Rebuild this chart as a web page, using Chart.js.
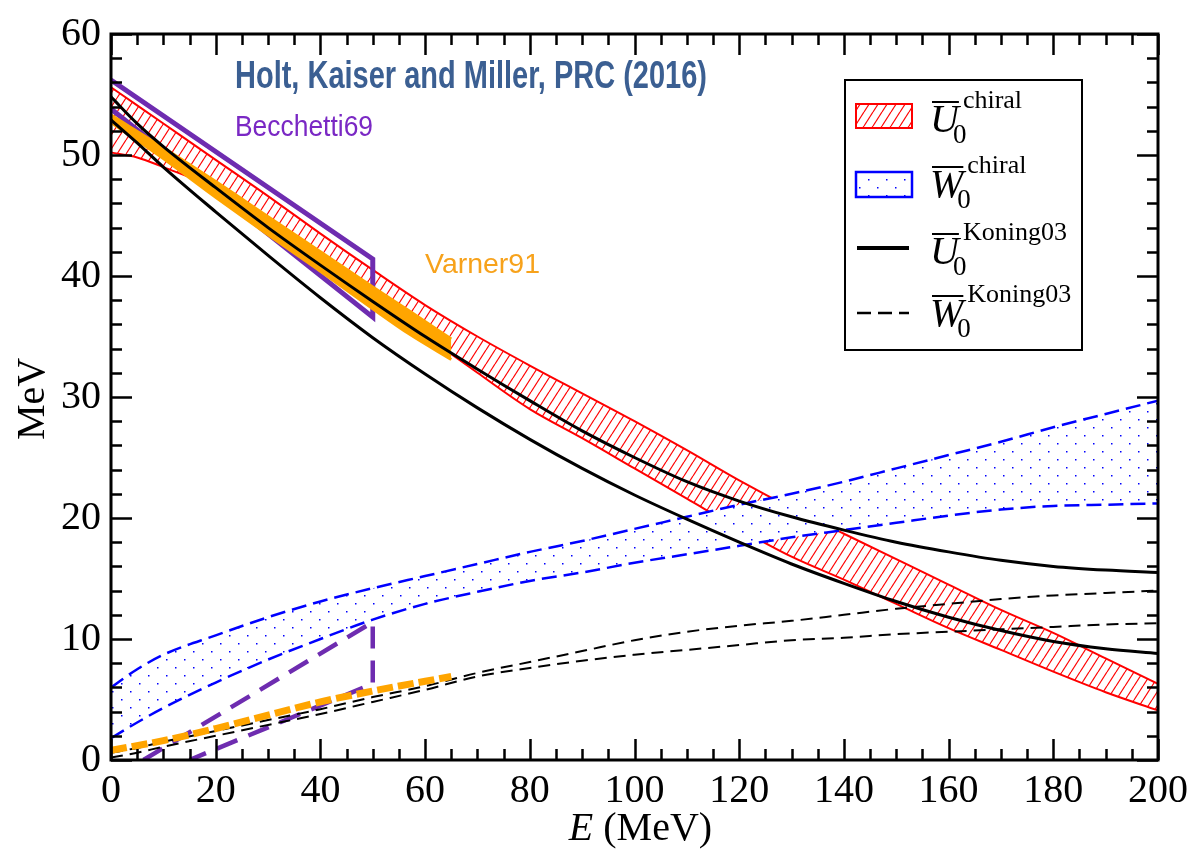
<!DOCTYPE html>
<html>
<head>
<meta charset="utf-8">
<title>Optical potential depths</title>
<script src="https://cdn.jsdelivr.net/npm/chart.js@4.4.1/dist/chart.umd.min.js"></script>
<style>
  html, body { margin: 0; padding: 0; background: #fff; }
  #wrap { width: 1197px; height: 852px; }
</style>
</head>
<body>
<div id="wrap"><canvas id="mycanvas" width="1197" height="852"></canvas></div>
<script>
// energy grid (MeV) for the chiral and Koning03 curves
var energy = [0, 5, 10, 20, 30, 40, 50, 60, 70, 80, 90, 100, 110, 120, 130, 140, 150, 160, 170, 180, 190, 200];

// chiral real part band
var uChiralHigh = [55.6, 54.1, 52.6, 49.6, 46.6, 43.5, 40.5, 37.6, 35.0, 32.6, 30.3, 28.0, 25.6, 23.1, 20.8, 18.7, 16.6, 14.5, 12.4, 10.5, 8.4, 6.3];
var uChiralLow  = [50.2, 49.8, 49.0, 47.2, 44.4, 41.3, 38.2, 35.1, 32.0, 29.0, 26.6, 24.1, 21.6, 19.1, 16.8, 14.9, 12.9, 10.9, 9.1, 7.3, 5.6, 4.1];

// chiral imaginary part band
var wChiralHigh = [6.0, 7.5, 8.7, 10.3, 11.8, 13.1, 14.2, 15.2, 16.2, 17.2, 18.1, 19.1, 20.1, 21.1, 22.0, 23.0, 24.1, 25.2, 26.3, 27.5, 28.6, 29.7];
var wChiralLow  = [1.8, 3.1, 4.3, 6.4, 8.3, 10.0, 11.6, 12.9, 13.9, 14.8, 15.5, 16.3, 17.0, 17.7, 18.4, 19.0, 19.6, 20.2, 20.7, 21.0, 21.1, 21.2];

// Koning03 global potential, two cases each
var uKoningA = [54.8, 52.6, 50.7, 47.3, 44.0, 40.9, 37.9, 35.0, 32.3, 29.7, 27.2, 25.0, 23.0, 21.4, 20.1, 19.0, 18.0, 17.2, 16.5, 16.0, 15.7, 15.5];
var uKoningB = [52.9, 51.0, 49.0, 45.3, 41.7, 38.2, 34.9, 31.9, 29.1, 26.5, 24.1, 21.9, 19.9, 18.0, 16.2, 14.6, 13.1, 11.8, 10.7, 9.8, 9.2, 8.8];
var wKoningA = [0.6, 1.0, 1.5, 2.4, 3.3, 4.2, 5.2, 6.1, 7.2, 8.1, 9.0, 9.9, 10.6, 11.1, 11.5, 12.0, 12.5, 12.9, 13.3, 13.6, 13.8, 14.0];
var wKoningB = [0.2, 0.6, 1.1, 2.0, 2.9, 3.8, 4.8, 5.8, 6.9, 7.6, 8.2, 8.7, 9.1, 9.5, 9.9, 10.1, 10.4, 10.6, 10.8, 11.0, 11.2, 11.3];

// Varner91
var varnerEnergy = [0, 10, 20, 30, 40, 50, 57, 65];
var uVarnerHigh = [53.3, 50.6, 47.8, 44.9, 42.0, 39.1, 37.1, 34.8];
var uVarnerLow  = [52.7, 49.7, 46.5, 43.4, 40.4, 37.3, 35.2, 33.1];
var varnerEnergyW = [0, 10, 20, 30, 40, 50, 65];
var wVarner = [0.8, 1.6, 2.6, 3.7, 4.8, 5.7, 6.9];

// Becchetti69 (one polyline each: upper edge, step at 50 MeV, lower edge)
var becchettiEnergyU = [0, 50, 50, 0];
var uBecchetti = [56.2, 41.4, 36.6, 53.8];
var becchettiEnergyW = [6.2, 50, 50, 15];
var wBecchetti = [0, 11.4, 6.3, 0];

var xTicks = [0, 200, 20];
var yTicks = [0, 60, 10];

var RED = '#ff0000', BLUE = '#0000ff', PURPLE = '#6e2cb0', ORANGE = '#ffa500';
var SERIF = '"Liberation Serif", "Times New Roman", serif';

function pts(xs, ys) {
  return xs.map(function (x, i) { return { x: x, y: ys[i] }; });
}

// red "/" hatching, transparent between the strokes
function hatchPattern() {
  var w = 9, h = 14;
  var c = document.createElement('canvas');
  c.width = w; c.height = h;
  var g = c.getContext('2d');
  g.strokeStyle = RED;
  g.lineWidth = 1.2;
  for (var k = -1; k <= 1; k++) {
    g.beginPath();
    g.moveTo(k * w, h);
    g.lineTo((k + 1) * w, 0);
    g.stroke();
  }
  return g.createPattern(c, 'repeat');
}

// blue dots on an opaque white ground
function dotPattern() {
  var w = 18, h = 16;
  var c = document.createElement('canvas');
  c.width = w; c.height = h;
  var g = c.getContext('2d');
  g.fillStyle = '#fff';
  g.fillRect(0, 0, w, h);
  g.fillStyle = BLUE;
  g.fillRect(4, 3, 1.5, 1.5);
  g.fillRect(13, 11, 1.5, 1.5);
  return g.createPattern(c, 'repeat');
}

var hatch = hatchPattern();
var dots = dotPattern();

function curve(data, color, width, extra) {
  var d = {
    data: data,
    borderColor: color,
    borderWidth: width,
    pointRadius: 0,
    fill: false,
    cubicInterpolationMode: 'monotone'
  };
  for (var k in extra) d[k] = extra[k];
  return d;
}

// higher order = drawn earlier (underneath)
var datasets = [
  curve(pts(energy, uChiralHigh), RED, 2, { fill: '+1', backgroundColor: hatch, order: 20 }),
  curve(pts(energy, uChiralLow), RED, 2, { order: 19 }),
  curve(pts(energy, wChiralHigh), BLUE, 2.5, { fill: '+1', backgroundColor: dots, borderDash: [15, 7], order: 18 }),
  curve(pts(energy, wChiralLow), BLUE, 2.5, { borderDash: [15, 7], order: 17 }),
  curve(pts(becchettiEnergyW, wBecchetti), PURPLE, 4.5, { borderDash: [22, 12], tension: 0, cubicInterpolationMode: 'default', order: 16 }),
  curve(pts(energy, wKoningA), '#000', 2, { borderDash: [12, 7], order: 15 }),
  curve(pts(energy, wKoningB), '#000', 2, { borderDash: [12, 7], order: 14 }),
  curve(pts(varnerEnergyW, wVarner), ORANGE, 7, { borderDash: [16, 5], order: 13 }),
  curve(pts(becchettiEnergyU, uBecchetti), PURPLE, 5, { tension: 0, cubicInterpolationMode: 'default', order: 12 }),
  curve(pts(varnerEnergy, uVarnerHigh), ORANGE, 3, { fill: '+1', backgroundColor: ORANGE, order: 11 }),
  curve(pts(varnerEnergy, uVarnerLow), ORANGE, 3, { order: 10 }),
  curve(pts(energy, uKoningA), '#000', 3, { order: 9 }),
  curve(pts(energy, uKoningB), '#000', 3, { order: 8 })
];

// text squeezed to a given width (condensed sans labels)
function fitText(ctx, text, x, y, width, font, color) {
  ctx.save();
  ctx.font = font;
  var w = ctx.measureText(text).width;
  ctx.translate(x, y);
  ctx.scale(width / w, 1);
  ctx.fillStyle = color;
  ctx.textAlign = 'left';
  ctx.textBaseline = 'alphabetic';
  ctx.fillText(text, 0, 0);
  ctx.restore();
}

// barred symbol with subscript 0 and a superscript tag
function barSymbol(ctx, letter, tag, x, base) {
  ctx.save();
  ctx.fillStyle = '#000';
  ctx.textAlign = 'left';
  ctx.textBaseline = 'alphabetic';
  ctx.font = 'italic 40px ' + SERIF;
  ctx.fillText(letter, x, base);
  var lw = ctx.measureText(letter).width;
  ctx.fillRect(x + 2, base - 31, lw - 2, 2);
  ctx.font = '27px ' + SERIF;
  ctx.fillText('0', x + lw - 6, base + 11);
  ctx.font = '26px ' + SERIF;
  ctx.fillText(tag, x + lw + 4, base - 24);
  ctx.restore();
}

var decorations = {
  id: 'decorations',
  afterDraw: function (chart) {
    var ctx = chart.ctx;
    var a = chart.chartArea;
    var sx = chart.scales.x, sy = chart.scales.y;

    // inward ticks on all four sides, then the frame
    ctx.save();
    ctx.strokeStyle = '#000';
    ctx.lineWidth = 2.5;
    ctx.beginPath();
    for (var e = xTicks[0]; e <= xTicks[1]; e += 5) {
      var px = Math.round(sx.getPixelForValue(e)) + 0.5;
      var len = (e % xTicks[2] === 0) ? 21 : 11;
      ctx.moveTo(px, a.bottom); ctx.lineTo(px, a.bottom - len);
      ctx.moveTo(px, a.top); ctx.lineTo(px, a.top + len);
    }
    for (var v = yTicks[0]; v <= yTicks[1]; v += 2) {
      var py = Math.round(sy.getPixelForValue(v)) + 0.5;
      var ylen = (v % yTicks[2] === 0) ? 21 : 11;
      ctx.moveTo(a.left, py); ctx.lineTo(a.left + ylen, py);
      ctx.moveTo(a.right, py); ctx.lineTo(a.right - ylen, py);
    }
    ctx.stroke();
    ctx.lineWidth = 3;
    ctx.strokeRect(a.left, a.top, a.right - a.left, a.bottom - a.top);

    // axis titles
    ctx.fillStyle = '#000';
    ctx.textBaseline = 'alphabetic';
    ctx.font = 'italic 40px ' + SERIF;
    var wE = ctx.measureText('E').width;
    ctx.font = '40px ' + SERIF;
    var wRest = ctx.measureText(' (MeV)').width;
    var x0 = (a.left + a.right) / 2 + 6 - (wE + wRest) / 2;
    ctx.font = 'italic 40px ' + SERIF;
    ctx.textAlign = 'left';
    ctx.fillText('E', x0, 840);
    ctx.font = '40px ' + SERIF;
    ctx.fillText(' (MeV)', x0 + wE, 840);

    ctx.save();
    ctx.translate(33, (a.top + a.bottom) / 2 + 2);
    ctx.rotate(-Math.PI / 2);
    ctx.textAlign = 'center';
    ctx.textBaseline = 'middle';
    ctx.fillText('MeV', 0, 0);
    ctx.restore();

    // annotations
    fitText(ctx, 'Holt, Kaiser and Miller, PRC (2016)', 235, 88, 472, 'bold 38px "Liberation Sans Narrow", "Liberation Sans", sans-serif', '#3b5f92');
    fitText(ctx, 'Becchetti69', 235, 136, 138, '29px "Liberation Sans", sans-serif', '#7a28c4');
    fitText(ctx, 'Varner91', 425, 273, 115, '28px "Liberation Sans", sans-serif', '#f7a21b');

    // legend
    var lx = 845, ly = 80;
    ctx.fillStyle = '#fff';
    ctx.fillRect(lx, ly, 237, 270);
    ctx.lineWidth = 2;
    ctx.strokeStyle = '#000';
    ctx.strokeRect(lx, ly, 237, 270);

    ctx.fillStyle = hatch;
    ctx.fillRect(856, 104, 56, 24);
    ctx.strokeStyle = RED;
    ctx.strokeRect(856, 104, 56, 24);

    ctx.fillStyle = dots;
    ctx.fillRect(856, 172, 56, 25);
    ctx.strokeStyle = BLUE;
    ctx.lineWidth = 2.5;
    ctx.strokeRect(856, 172, 56, 25);

    ctx.strokeStyle = '#000';
    ctx.lineWidth = 4;
    ctx.beginPath();
    ctx.moveTo(857, 248); ctx.lineTo(909, 248);
    ctx.stroke();
    ctx.lineWidth = 2.5;
    ctx.setLineDash([14, 7]);
    ctx.beginPath();
    ctx.moveTo(857, 313); ctx.lineTo(909, 313);
    ctx.stroke();
    ctx.setLineDash([]);

    barSymbol(ctx, 'U', 'chiral', 930, 132);
    barSymbol(ctx, 'W', 'chiral', 930, 197);
    barSymbol(ctx, 'U', 'Koning03', 930, 264);
    barSymbol(ctx, 'W', 'Koning03', 930, 326);
    ctx.restore();
  }
};

var tickFont = { family: SERIF, size: 40 };

var new_chart = new Chart(document.getElementById('mycanvas'), {
  type: 'line',
  data: { datasets: datasets },
  options: {
    responsive: false,
    animation: false,
    devicePixelRatio: 1,
    layout: { padding: { left: 0, top: 27, right: 39, bottom: 0 } },
    plugins: { legend: { display: false }, tooltip: { enabled: false } },
    scales: {
      x: {
        type: 'linear',
        min: xTicks[0], max: xTicks[1],
        grid: { display: false, drawTicks: false },
        border: { display: false },
        ticks: { stepSize: xTicks[2], font: tickFont, color: '#000', padding: 7, maxRotation: 0, autoSkip: false },
        afterFit: function (s) { s.height = 92; }
      },
      y: {
        type: 'linear',
        min: yTicks[0], max: yTicks[1],
        grid: { display: false, drawTicks: false },
        border: { display: false },
        ticks: { stepSize: yTicks[2], font: tickFont, color: '#000', padding: 10 },
        afterFit: function (s) { s.width = 111; }
      }
    }
  },
  plugins: [decorations]
});
</script>
</body>
</html>
